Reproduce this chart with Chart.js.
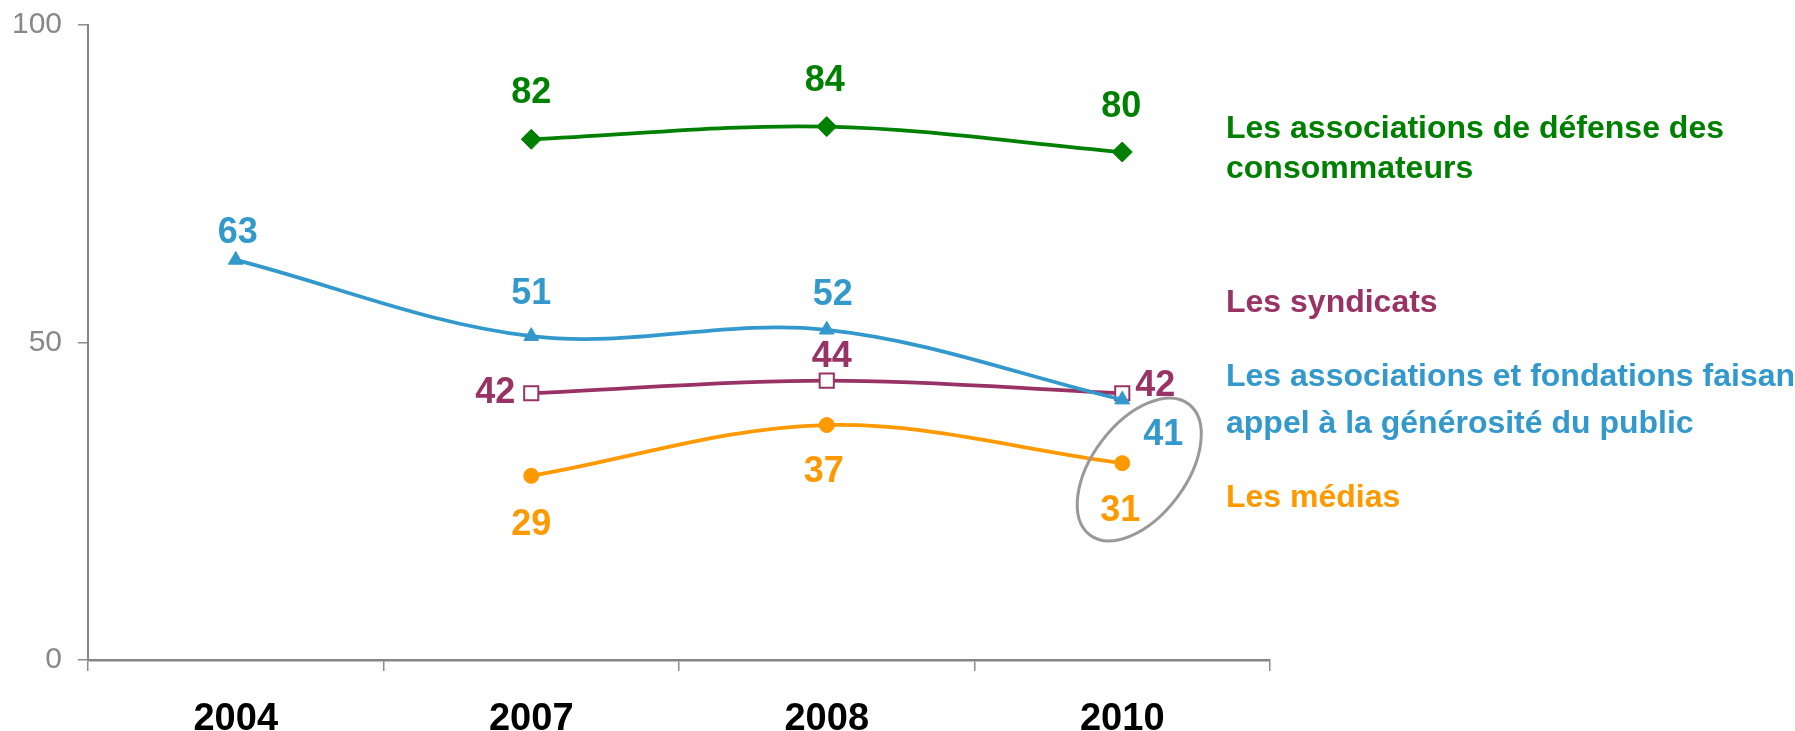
<!DOCTYPE html>
<html><head><meta charset="utf-8">
<script src="https://cdn.jsdelivr.net/npm/chart.js@4.4.1/dist/chart.umd.min.js"></script>
<style>html,body{margin:0;padding:0;background:#fff;overflow:hidden}#wrap{width:1795px;height:731px;position:relative}</style>
</head><body><div id="wrap"><canvas id="c"></canvas></div>
<script>
// ---- data ----
const years = ['2004', '2007', '2008', '2010'];
const consumerAssoc = [null, 82, 84, 80];
const charityAssoc = [63, 51, 52, 41];
const unions = [null, 42, 44, 42];
const media = [null, 29, 37, 31];
const yTicks = [0, 50, 100];
const seriesNames = [
  ['Les associations de défense des', 'consommateurs'],
  ['Les associations et fondations faisant', 'appel à la générosité du public'],
  ['Les syndicats'],
  ['Les médias']
];

// ---- styles ----
const FONT = '"Liberation Sans", Arial, sans-serif';
const GREEN = '#008000', BLUE = '#3399CC', PURPLE = '#993366', ORANGE = '#FF9900';

const valueLabels = {
  id: 'valueLabels',
  afterDatasetsDraw(chart, args, opts) {
    const ctx = chart.ctx;
    ctx.save();
    // highlight ellipse around the 2010 values
    const xs = chart.scales.x, ys = chart.scales.y;
    const e = opts.ellipse;
    ctx.beginPath();
    ctx.ellipse(xs.getPixelForValue(e.cat) + e.dx, ys.getPixelForValue(e.val), e.rx, e.ry, e.rot * Math.PI / 180, 0, Math.PI * 2);
    ctx.strokeStyle = e.color;
    ctx.lineWidth = e.width;
    ctx.stroke();

    ctx.font = 'bold ' + opts.size + 'px ' + FONT;
    ctx.textAlign = 'center';
    ctx.textBaseline = 'alphabetic';
    chart.data.datasets.forEach((ds, di) => {
      const meta = chart.getDatasetMeta(di);
      const offs = opts.offsets[di];
      meta.data.forEach((pt, i) => {
        const v = ds.data[i];
        if (v === null || v === undefined) return;
        const o = offs[i];
        ctx.fillStyle = ds.borderColor;
        ctx.fillText(String(v), pt.x + o[0], pt.y + o[1] + opts.size * 0.358);
      });
    });
    ctx.restore();
  }
};

const sideLegend = {
  id: 'sideLegend',
  afterDraw(chart, args, opts) {
    const ctx = chart.ctx;
    ctx.save();
    ctx.font = 'bold ' + opts.size + 'px ' + FONT;
    ctx.textAlign = 'left';
    ctx.textBaseline = 'alphabetic';
    chart.data.datasets.forEach((ds, di) => {
      const lines = seriesNames[di];
      const bl = opts.baselines[di];
      ctx.fillStyle = ds.borderColor;
      lines.forEach((t, li) => ctx.fillText(t, opts.x, bl[li]));
    });
    ctx.restore();
  }
};

function ds(label, data, color, style, radius, bg, bw) {
  return {
    label: label, data: data, borderColor: color, backgroundColor: color,
    borderWidth: 3.8, tension: 0.35, spanGaps: false,
    pointStyle: style, pointRadius: radius, pointHoverRadius: radius,
    pointBackgroundColor: bg || color, pointBorderColor: color, pointBorderWidth: bw || 1
  };
}

new Chart(document.getElementById('c'), {
  type: 'line',
  data: {
    labels: years,
    datasets: [
      ds(seriesNames[0].join(' '), consumerAssoc, GREEN, 'rectRot', 10),
      ds(seriesNames[1].join(' '), charityAssoc, BLUE, 'triangle', 8.5),
      ds(seriesNames[2].join(' '), unions, PURPLE, 'rect', 10, '#ffffff', 2),
      ds(seriesNames[3].join(' '), media, ORANGE, 'circle', 7.5)
    ]
  },
  options: {
    responsive: true,
    maintainAspectRatio: false,
    animation: false,
    events: [],
    layout: { padding: { top: 25, right: 525, left: 0, bottom: 0 } },
    plugins: {
      legend: { display: false },
      tooltip: { enabled: false },
      valueLabels: {
        size: 36,
        offsets: [
          [null, [0, -49], [-2, -48], [-1, -48]],
          [[2, -30], [0, -45], [6, -38], [41, 32]],
          [null, [-36, -3], [5, -26], [33, -10]],
          [null, [0, 46], [-3, 44], [-2, 45]]
        ],
        ellipse: { cat: 3, dx: 17, val: 30, rx: 47, ry: 82, rot: 37, color: '#999999', width: 3 }
      },
      sideLegend: {
        size: 32, x: 1226,
        baselines: [[138, 177.5], [386, 432.5], [312], [507]]
      }
    },
    scales: {
      x: {
        type: 'category',
        offset: true,
        grid: { display: true, offset: true, drawOnChartArea: false, drawTicks: true, tickLength: 11, color: '#8c8c8c', lineWidth: 1.5 },
        border: { display: true, color: '#868686', width: 2.5 },
        ticks: { color: '#000000', font: { family: FONT, size: 38, weight: 'bold' }, padding: 26, maxRotation: 0, autoSkip: false },
        afterFit(s) { s.height = 71; }
      },
      y: {
        min: 0, max: 100,
        afterBuildTicks(s) { s.ticks = yTicks.map(v => ({ value: v })); },
        grid: { drawOnChartArea: false, drawTicks: true, tickLength: 10, color: '#8c8c8c', lineWidth: 1.5 },
        border: { display: true, color: '#868686', width: 2 },
        ticks: { color: '#888888', font: { family: FONT, size: 30 }, padding: 16 },
        afterFit(s) { s.width = 88; s.paddingTop = 0; s.paddingBottom = 0; }
      }
    }
  },
  plugins: [valueLabels, sideLegend]
});
</script>
</body></html>
